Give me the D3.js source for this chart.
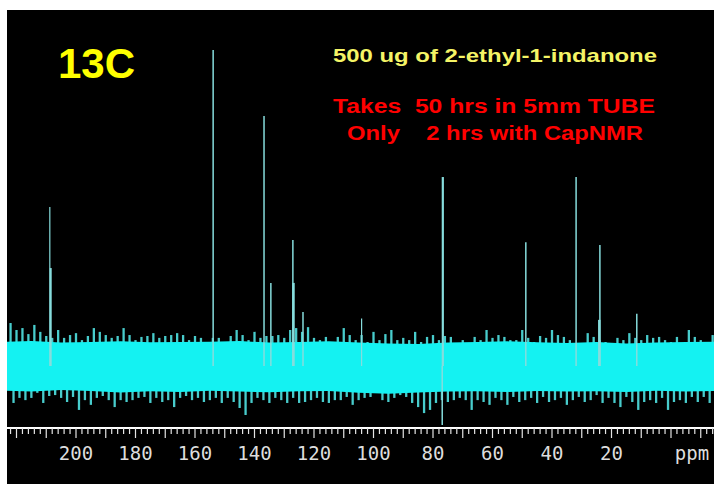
<!DOCTYPE html>
<html lang="en">
<head>
<meta charset="utf-8">
<title>13C spectrum</title>
<script src="https://cdn.jsdelivr.net/npm/d3@7"></script>
<style>
  body { margin: 0; background: #fff; }
  text { white-space: pre; }
</style>
</head>
<body>
<script>
// peaks: chemical shift (ppm) and height (% of tallest line)
var peakPpm    = [208.8, 208.5, 153.9, 136.8, 134.5, 127.1, 126.9, 123.7, 104.0, 76.7, 76.9, 48.8, 31.9, 23.9, 24.1, 11.5];
var peakHeight = [50.3, 31.0, 100, 79.1, 26.3, 39.9, 26.3, 17.1, 15.0, 59.8, -18.7, 39.2, 59.8, 38.3, 14.6, 16.5];
var peakWidth  = [1.2, 2, 1.5, 1.5, 1.5, 1.5, 2.5, 1.5, 1.2, 2.2, 1.5, 1.5, 1.5, 1.5, 2.5, 1.5];

// noise tips, sampled every 2 ppm from 222 down to -14
var noisePpm = d3.range(222, -15, -2);
var noiseTop = [
  13.6,11.4,12.0,10.1,13.0,10.8,9.5,8.9,11.4,8.9,9.8,10.4,8.2,9.5,12.0,10.8,9.8,8.9,9.5,12.0,9.8,8.2,9.2,9.5,10.4,8.9,9.5,9.8,10.4,
  9.8,8.2,9.5,8.9,7.6,8.9,8.9,7.6,9.5,11.4,9.8,8.2,10.8,8.9,9.5,9.5,9.8,8.9,11.4,12.0,10.8,12.3,8.9,8.2,9.2,7.6,9.2,12.0,9.8,8.2,
  9.8,7.6,10.8,8.2,10.1,11.4,8.2,8.9,8.2,10.8,7.6,9.2,9.8,8.2,9.5,9.2,6.0,8.2,7.3,9.2,8.2,11.4,8.9,9.8,9.2,8.2,8.2,11.4,8.9,7.6,
  9.5,8.9,11.4,9.8,9.2,8.2,6.6,4.4,10.4,9.2,8.2,7.6,6.3,8.9,8.2,10.4,8.9,8.2,9.8,8.9,9.2,8.2,7.6,9.2,6.6,11.4,9.2,8.2,7.6,9.8
];
var noiseBot = [
  -11.7,-10.1,-10.8,-10.1,-8.5,-11.7,-9.5,-9.2,-10.1,-11.4,-9.8,-13.9,-10.8,-12.3,-10.1,-9.5,-10.8,-13.0,-10.8,-11.4,-10.8,-10.1,-9.8,-11.7,-10.1,-11.4,-10.8,-13.0,-10.1,
  -9.5,-10.8,-10.1,-11.4,-10.8,-10.1,-11.7,-10.1,-11.4,-13.3,-15.5,-11.7,-10.1,-10.8,-11.7,-10.1,-10.8,-11.7,-10.1,-11.7,-11.4,-10.8,-10.1,-11.4,-11.7,-10.8,-10.8,-9.8,-12.3,-10.8,
  -10.1,-9.8,-8.2,-10.8,-11.4,-10.1,-9.2,-9.8,-11.7,-13.0,-14.9,-13.9,-11.7,-10.8,-11.4,-10.8,-10.1,-10.8,-13.9,-10.8,-11.4,-12.3,-10.1,-10.8,-12.3,-9.8,-11.4,-10.8,-10.1,-11.7,
  -9.8,-11.4,-10.8,-10.1,-12.3,-10.8,-9.8,-11.4,-10.8,-9.2,-11.7,-10.1,-11.7,-13.0,-9.8,-11.4,-13.9,-11.4,-10.8,-11.7,-10.1,-13.9,-11.4,-10.8,-11.7,-9.8,-11.4,-9.8,-11.7,-10.8
];

// solid core of the noise band, every 10 ppm
var corePpm = d3.range(225, -20, -10);
var coreTop = [7.6,7.9,7.4,7.6,7.8,7.5,7.6,7.7,7.9,7.4,7.6,7.8,7.4,7.1,7.0,7.4,7.6,7.8,7.5,7.3,7.6,7.1,7.4,7.6,7.7];
var coreBot = [-7.8,-8.1,-7.6,-7.9,-8.4,-8.0,-8.2,-7.8,-8.1,-8.3,-8.0,-7.9,-8.5,-8.8,-8.4,-8.1,-8.0,-8.2,-7.9,-8.1,-8.0,-8.2,-7.8,-8.1,-7.9];

var tickLabels = [200, 180, 160, 140, 120, 100, 80, 60, 40, 20];

var w = 714, h = 484;
var svg = d3.select("body").append("svg")
    .attr("width", w)
    .attr("height", h);

svg.append("rect")
    .attr("x", 7).attr("y", 10)
    .attr("width", w - 7).attr("height", h - 10)
    .attr("fill", "#000");

svg.append("clipPath").attr("id", "panel")
    .append("rect")
    .attr("x", 7).attr("y", 10)
    .attr("width", w - 7).attr("height", h - 10);

// ppm runs right to left
var x = d3.scaleLinear().domain([0, 200]).range([671, 76]);
var y = d3.scaleLinear().domain([0, 100]).range([366, 50]);

var plot = svg.append("g").attr("clip-path", "url(#panel)");

// noise spikes, upper and lower
plot.selectAll("line.up")
    .data(noisePpm)
    .enter()
    .append("line")
    .attr("class", "up")
    .attr("x1", function (d) { return x(d); })
    .attr("x2", function (d) { return x(d); })
    .attr("y1", y(0))
    .attr("y2", function (d, i) { return y(noiseTop[i]); })
    .attr("stroke", "#48cccc")
    .attr("stroke-width", 2.3);

plot.selectAll("line.down")
    .data(noisePpm)
    .enter()
    .append("line")
    .attr("class", "down")
    .attr("x1", function (d) { return x(d - 1); })
    .attr("x2", function (d) { return x(d - 1); })
    .attr("y1", y(0))
    .attr("y2", function (d, i) { return y(noiseBot[i]); })
    .attr("stroke", "#48cccc")
    .attr("stroke-width", 2.3);

// solid band
var core = d3.area()
    .x(function (d) { return x(d); })
    .y0(function (d, i) { return y(coreBot[i]); })
    .y1(function (d, i) { return y(coreTop[i]); });

plot.append("path")
    .datum(corePpm)
    .attr("d", core)
    .attr("fill", "#14f2f2");

// peaks
plot.selectAll("line.peak")
    .data(peakPpm)
    .enter()
    .append("line")
    .attr("class", "peak")
    .attr("x1", function (d) { return x(d); })
    .attr("x2", function (d) { return x(d); })
    .attr("y1", y(0))
    .attr("y2", function (d, i) { return y(peakHeight[i]); })
    .attr("stroke", "#86dcdc")
    .attr("stroke-width", function (d, i) { return peakWidth[i]; });

// axis
var axisY = 428;
var axis = svg.append("g").attr("transform", "translate(0," + axisY + ")");
axis.append("line")
    .attr("x1", 7).attr("x2", w)
    .attr("y1", 0).attr("y2", 0)
    .attr("stroke", "#fff").attr("stroke-width", 2);

var minor = d3.range(-14, 224, 2);
axis.selectAll("line.tick")
    .data(minor)
    .enter()
    .append("line")
    .attr("class", "tick")
    .attr("x1", function (d) { return x(d); })
    .attr("x2", function (d) { return x(d); })
    .attr("y1", 0)
    .attr("y2", function (d) { return d % 10 === 0 ? 10 : 6; })
    .attr("stroke", "#e4e4e4")
    .attr("stroke-width", 1.2);

axis.selectAll("text.lab")
    .data(tickLabels)
    .enter()
    .append("text")
    .attr("class", "lab")
    .attr("x", function (d) { return x(d); })
    .attr("y", 32)
    .attr("text-anchor", "middle")
    .attr("font-family", "DejaVu Sans Mono, monospace")
    .attr("font-size", "19px")
    .attr("fill", "#ddd")
    .text(function (d) { return d; });

axis.append("text")
    .attr("x", 692).attr("y", 32)
    .attr("text-anchor", "middle")
    .attr("font-family", "DejaVu Sans Mono, monospace")
    .attr("font-size", "19px")
    .attr("fill", "#ddd")
    .text("ppm");

// captions
var font = "Liberation Sans, Arial, sans-serif";
svg.append("text")
    .attr("x", 58).attr("y", 78)
    .attr("font-family", font).attr("font-weight", "bold")
    .attr("font-size", "42px")
    .attr("fill", "#ffff00")
    .text("13C");

svg.append("text")
    .attr("x", 333).attr("y", 62)
    .attr("font-family", font).attr("font-weight", "bold")
    .attr("font-size", "19px")
    .attr("textLength", 324).attr("lengthAdjust", "spacingAndGlyphs")
    .attr("fill", "#f4f466")
    .text("500 ug of 2-ethyl-1-indanone");

svg.append("text")
    .attr("x", 333).attr("y", 113)
    .attr("font-family", font).attr("font-weight", "bold")
    .attr("font-size", "20px")
    .attr("textLength", 322).attr("lengthAdjust", "spacingAndGlyphs")
    .attr("fill", "#ff0000")
    .text("Takes  50 hrs in 5mm TUBE");

svg.append("text")
    .attr("x", 347).attr("y", 140)
    .attr("font-family", font).attr("font-weight", "bold")
    .attr("font-size", "20px")
    .attr("textLength", 296).attr("lengthAdjust", "spacingAndGlyphs")
    .attr("fill", "#ff0000")
    .text("Only    2 hrs with CapNMR");
</script>
</body>
</html>
